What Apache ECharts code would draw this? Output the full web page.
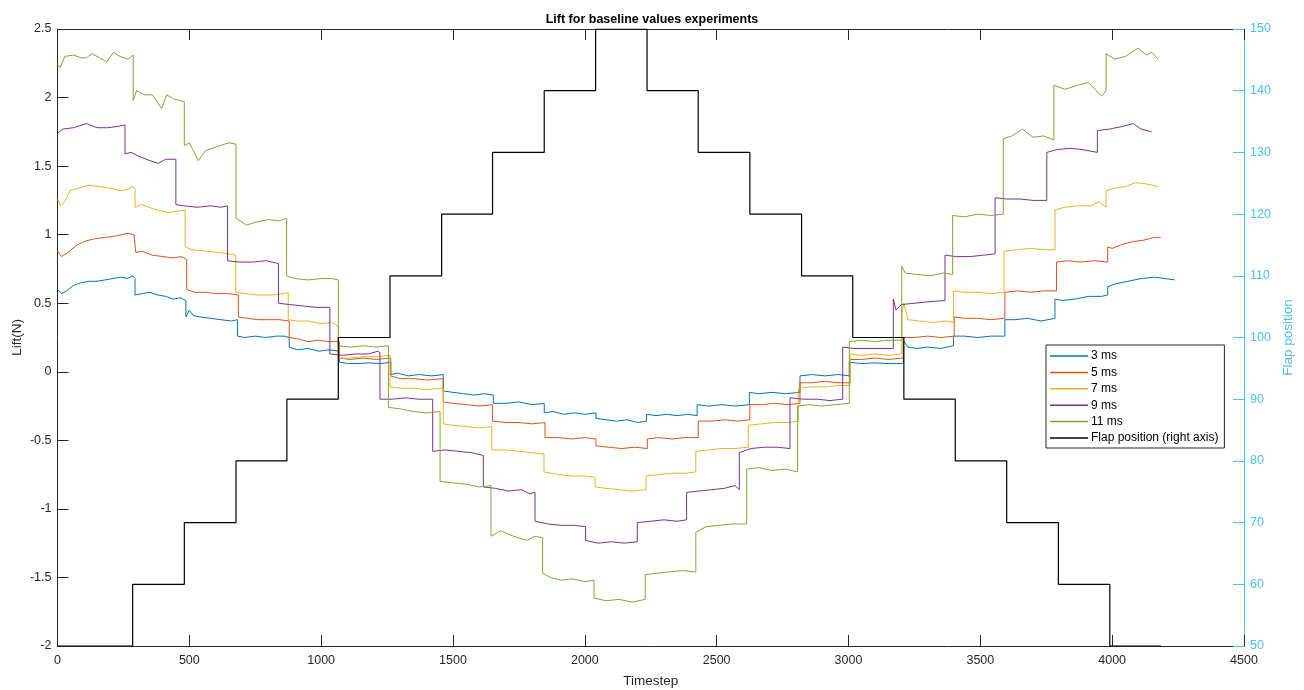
<!DOCTYPE html>
<html>
<head>
<meta charset="utf-8">
<script src="https://cdn.jsdelivr.net/npm/echarts@6/dist/echarts.min.js"></script>
<style>
html,body{margin:0;padding:0;background:#fff;}
#chart{width:1304px;height:690px;}
</style>
</head>
<body>
<div id="chart"></div>
<script>
// ---------------- DATA ----------------
const seriesNames = ['3 ms', '5 ms', '7 ms', '9 ms', '11 ms', 'Flap position (right axis)'];

// Flap position staircase (right axis): value held from flapTimes[i] to flapTimes[i+1]
const flapTimes = [0, 285, 481, 677, 870, 1065, 1261, 1457, 1650, 1846, 2041, 2236, 2430, 2626, 2822, 3016, 3210, 3405, 3600, 3796, 3991, 4185];
const flapValues = [50, 60, 70, 80, 90, 100, 110, 120, 130, 140, 150, 140, 130, 120, 110, 100, 90, 80, 70, 60, 50];

// Lift readings [timestep, lift N]
const lift3 = [[0,0.60],[15,0.57],[35,0.59],[60,0.63],[90,0.65],[120,0.66],[150,0.66],[180,0.67],[210,0.68],[240,0.69],[265,0.68],[285,0.70],[294,0.68],
[294,0.56],[320,0.57],[350,0.58],[380,0.56],[410,0.55],[440,0.53],[465,0.54],[487,0.52],
[487,0.40],[500,0.45],[515,0.41],[540,0.40],[580,0.39],[620,0.38],[660,0.37],[683,0.38],
[683,0.26],[710,0.25],[750,0.26],[790,0.25],[830,0.26],[860,0.26],[879,0.25],
[879,0.18],[910,0.16],[950,0.17],[990,0.15],[1030,0.16],[1069,0.15],
[1069,0.07],[1100,0.06],[1140,0.06],[1180,0.065],[1230,0.06],[1264,0.07],
[1264,-0.02],[1290,-0.01],[1330,-0.03],[1370,-0.02],[1420,-0.03],[1463,-0.02],
[1463,-0.14],[1500,-0.15],[1540,-0.16],[1580,-0.17],[1620,-0.16],[1653,-0.17],
[1653,-0.23],[1700,-0.23],[1750,-0.22],[1800,-0.24],[1846,-0.23],
[1846,-0.30],[1880,-0.29],[1920,-0.31],[1960,-0.30],[2000,-0.31],[2042,-0.30],
[2042,-0.34],[2080,-0.35],[2120,-0.36],[2160,-0.35],[2200,-0.37],[2234,-0.36],
[2234,-0.31],[2270,-0.32],[2310,-0.31],[2350,-0.32],[2390,-0.31],[2426,-0.32],
[2426,-0.24],[2470,-0.25],[2520,-0.24],[2570,-0.25],[2624,-0.24],
[2624,-0.15],[2660,-0.16],[2710,-0.15],[2760,-0.16],[2816,-0.15],
[2816,-0.03],[2860,-0.02],[2910,-0.03],[2960,-0.02],[3003,-0.03],
[3003,0.07],[3050,0.06],[3100,0.065],[3150,0.06],[3208,0.06],
[3208,0.23],[3225,0.18],[3260,0.17],[3300,0.18],[3350,0.17],[3398,0.19],
[3398,0.26],[3440,0.26],[3490,0.25],[3540,0.26],[3593,0.26],
[3593,0.38],[3630,0.38],[3680,0.39],[3730,0.37],[3783,0.39],
[3783,0.53],[3810,0.52],[3860,0.53],[3910,0.55],[3960,0.55],[3983,0.56],
[3983,0.62],[4010,0.64],[4060,0.66],[4110,0.68],[4160,0.69],[4200,0.68],[4238,0.67]];

const lift5 = [[0,0.88],[15,0.84],[40,0.87],[70,0.92],[100,0.95],[140,0.97],[180,0.98],[220,0.99],[268,1.01],[290,1.00],[297,0.99],
[297,0.87],[320,0.88],[360,0.85],[400,0.84],[440,0.83],[470,0.84],[490,0.82],
[490,0.60],[520,0.58],[560,0.58],[600,0.57],[650,0.57],[686,0.56],
[686,0.40],[720,0.39],[760,0.38],[800,0.38],[840,0.38],[879,0.37],
[879,0.25],[910,0.24],[950,0.22],[990,0.23],[1030,0.22],[1069,0.22],
[1069,0.10],[1110,0.09],[1160,0.10],[1210,0.09],[1264,0.10],
[1264,-0.03],[1300,-0.05],[1350,-0.05],[1400,-0.06],[1463,-0.05],
[1463,-0.22],[1500,-0.23],[1550,-0.24],[1600,-0.25],[1650,-0.24],
[1650,-0.36],[1700,-0.37],[1750,-0.37],[1800,-0.38],[1849,-0.37],
[1849,-0.48],[1900,-0.48],[1950,-0.49],[2000,-0.48],[2042,-0.49],
[2042,-0.54],[2090,-0.55],[2140,-0.56],[2190,-0.55],[2237,-0.56],
[2237,-0.49],[2280,-0.48],[2330,-0.49],[2380,-0.48],[2430,-0.48],
[2430,-0.36],[2480,-0.36],[2530,-0.35],[2580,-0.36],[2626,-0.35],
[2626,-0.24],[2670,-0.24],[2720,-0.23],[2770,-0.24],[2816,-0.23],
[2816,-0.08],[2860,-0.08],[2910,-0.07],[2960,-0.08],[3006,-0.08],
[3006,0.09],[3050,0.09],[3100,0.10],[3150,0.09],[3208,0.10],
[3208,0.25],[3250,0.25],[3300,0.26],[3350,0.25],[3401,0.26],
[3401,0.40],[3440,0.39],[3490,0.39],[3540,0.38],[3593,0.39],
[3593,0.58],[3640,0.59],[3690,0.58],[3740,0.59],[3789,0.59],
[3789,0.80],[3830,0.81],[3880,0.80],[3930,0.81],[3983,0.80],
[3983,0.91],[4000,0.90],[4040,0.93],[4080,0.95],[4120,0.96],[4160,0.98],[4184,0.98]];

const lift7 = [[0,1.26],[12,1.21],[30,1.25],[47,1.32],[80,1.34],[120,1.36],[160,1.35],[200,1.34],[237,1.32],[265,1.33],[285,1.35],[294,1.33],
[294,1.20],[320,1.22],[360,1.19],[400,1.17],[420,1.16],[450,1.17],[484,1.18],
[484,0.91],[510,0.89],[560,0.88],[610,0.87],[650,0.86],[676,0.85],
[676,0.58],[710,0.57],[760,0.56],[810,0.56],[860,0.57],[875,0.58],
[875,0.38],[910,0.37],[950,0.37],[1000,0.35],[1040,0.36],[1065,0.33],
[1065,0.10],[1110,0.10],[1160,0.11],[1210,0.11],[1261,0.12],
[1261,-0.11],[1300,-0.12],[1350,-0.12],[1400,-0.13],[1463,-0.12],
[1463,-0.38],[1500,-0.39],[1550,-0.40],[1600,-0.41],[1647,-0.40],
[1647,-0.57],[1700,-0.57],[1750,-0.58],[1800,-0.59],[1845,-0.60],
[1845,-0.73],[1900,-0.75],[1950,-0.76],[2000,-0.76],[2039,-0.77],
[2039,-0.84],[2080,-0.85],[2130,-0.86],[2180,-0.87],[2232,-0.86],
[2232,-0.76],[2280,-0.75],[2330,-0.74],[2380,-0.74],[2421,-0.73],
[2421,-0.58],[2470,-0.57],[2520,-0.56],[2570,-0.56],[2620,-0.55],
[2620,-0.39],[2670,-0.38],[2720,-0.37],[2770,-0.37],[2810,-0.36],
[2810,-0.12],[2860,-0.11],[2910,-0.11],[2960,-0.10],[3006,-0.10],
[3006,0.13],[3050,0.12],[3100,0.13],[3150,0.12],[3202,0.13],
[3202,0.43],[3210,0.50],[3225,0.38],[3270,0.37],[3320,0.36],[3370,0.37],[3398,0.36],
[3398,0.59],[3440,0.58],[3490,0.58],[3540,0.57],[3590,0.58],
[3590,0.88],[3640,0.89],[3690,0.90],[3740,0.89],[3783,0.89],
[3783,1.18],[3820,1.20],[3870,1.21],[3920,1.21],[3950,1.24],[3977,1.20],
[3977,1.32],[4010,1.34],[4050,1.35],[4090,1.38],[4130,1.37],[4174,1.35]];

const lift9 = [[0,1.74],[20,1.77],[60,1.78],[110,1.81],[150,1.78],[190,1.78],[230,1.79],[256,1.80],
[256,1.59],[280,1.60],[310,1.57],[350,1.54],[382,1.52],[410,1.55],[449,1.55],
[449,1.22],[480,1.21],[530,1.20],[580,1.21],[620,1.20],[645,1.21],
[645,0.81],[690,0.80],[740,0.80],[790,0.81],[838,0.79],
[838,0.50],[880,0.49],[930,0.48],[980,0.47],[1033,0.47],
[1033,0.13],[1080,0.12],[1130,0.13],[1180,0.13],[1215,0.15],[1223,0.14],
[1223,-0.20],[1270,-0.20],[1320,-0.19],[1370,-0.20],[1423,-0.20],
[1423,-0.58],[1470,-0.57],[1520,-0.58],[1570,-0.59],[1615,-0.61],
[1615,-0.84],[1660,-0.85],[1710,-0.87],[1760,-0.86],[1790,-0.89],[1811,-0.88],
[1811,-1.09],[1860,-1.11],[1910,-1.12],[1960,-1.12],[2003,-1.13],
[2003,-1.23],[2050,-1.25],[2100,-1.24],[2150,-1.25],[2199,-1.24],
[2199,-1.10],[2250,-1.09],[2300,-1.08],[2350,-1.09],[2386,-1.08],
[2386,-0.88],[2430,-0.87],[2480,-0.86],[2530,-0.85],[2570,-0.83],[2586,-0.86],
[2586,-0.59],[2630,-0.56],[2680,-0.55],[2730,-0.55],[2778,-0.56],
[2778,-0.19],[2830,-0.20],[2880,-0.20],[2930,-0.21],[2978,-0.20],
[2978,0.18],[3020,0.17],[3070,0.17],[3120,0.17],[3170,0.17],
[3170,0.53],[3180,0.45],[3200,0.49],[3250,0.50],[3300,0.51],[3366,0.52],
[3366,0.85],[3410,0.84],[3460,0.84],[3510,0.85],[3556,0.86],
[3556,1.27],[3600,1.26],[3650,1.26],[3700,1.25],[3752,1.25],
[3752,1.60],[3790,1.62],[3840,1.63],[3890,1.62],[3944,1.60],
[3944,1.76],[3990,1.77],[4040,1.79],[4080,1.81],[4110,1.77],[4150,1.75]];

const lift11 = [[0,2.24],[10,2.22],[28,2.30],[60,2.31],[90,2.29],[110,2.29],[130,2.32],[160,2.29],[187,2.26],[212,2.33],[237,2.30],[268,2.28],[287,2.31],
[287,1.98],[300,2.05],[330,2.02],[360,2.02],[395,1.92],[414,2.02],[440,1.99],[481,1.97],
[481,1.65],[500,1.67],[534,1.54],[560,1.61],[600,1.64],[650,1.67],[677,1.66],
[677,1.12],[717,1.07],[750,1.09],[800,1.11],[840,1.10],[869,1.12],
[869,0.70],[900,0.68],[950,0.67],[1000,0.68],[1040,0.68],[1065,0.67],
[1065,0.19],[1110,0.18],[1160,0.19],[1210,0.18],[1255,0.19],
[1255,-0.26],[1300,-0.27],[1350,-0.29],[1400,-0.30],[1451,-0.29],
[1451,-0.80],[1500,-0.81],[1550,-0.82],[1600,-0.84],[1644,-0.83],
[1644,-1.20],[1680,-1.16],[1730,-1.20],[1779,-1.23],[1810,-1.20],[1840,-1.21],
[1840,-1.47],[1870,-1.50],[1910,-1.52],[1950,-1.51],[2000,-1.53],[2035,-1.52],
[2035,-1.65],[2080,-1.67],[2130,-1.66],[2180,-1.68],[2229,-1.66],
[2229,-1.48],[2270,-1.47],[2320,-1.46],[2370,-1.45],[2421,-1.46],
[2421,-1.17],[2460,-1.13],[2510,-1.12],[2560,-1.11],[2614,-1.11],
[2614,-0.71],[2660,-0.70],[2710,-0.72],[2760,-0.71],[2807,-0.73],
[2807,-0.25],[2850,-0.24],[2900,-0.25],[2950,-0.24],[3003,-0.23],
[3003,0.22],[3050,0.23],[3100,0.22],[3150,0.23],[3202,0.23],
[3202,0.77],[3215,0.72],[3260,0.71],[3310,0.70],[3360,0.72],[3395,0.71],
[3395,1.14],[3440,1.13],[3490,1.15],[3540,1.14],[3587,1.15],
[3587,1.70],[3620,1.72],[3660,1.77],[3700,1.71],[3740,1.72],[3779,1.69],
[3779,2.09],[3820,2.06],[3870,2.09],[3910,2.11],[3940,2.05],[3960,2.01],[3977,2.05],
[3977,2.32],[4010,2.28],[4050,2.30],[4098,2.36],[4130,2.31],[4150,2.33],[4174,2.28]];

// ---------------- CHART ----------------
const colors = ['#0072BD', '#D95319', '#EDB120', '#7E2F8E', '#77AC30', '#000000'];
const FONT = '"Liberation Sans", Helvetica, Arial, sans-serif';
const AX = '#262626';
const RIGHT = '#4DBEEE';

const flapData = [];
for (let i = 0; i < flapValues.length; i++) {
  flapData.push([flapTimes[i], flapValues[i]]);
  flapData.push([flapTimes[i + 1], flapValues[i]]);
}

const liftSets = [lift3, lift5, lift7, lift9, lift11];

const chart = echarts.init(document.getElementById('chart'), null, {renderer: 'canvas'});

const series = liftSets.map((d, i) => ({
  name: seriesNames[i],
  type: 'line',
  data: d,
  xAxisIndex: 0,
  yAxisIndex: 0,
  showSymbol: false,
  symbol: 'none',
  lineStyle: {width: 1, color: colors[i]},
  itemStyle: {color: colors[i]},
  animation: false,
  z: 2 + i
}));
series.push({
  name: seriesNames[5],
  type: 'line',
  data: flapData,
  xAxisIndex: 0,
  yAxisIndex: 1,
  showSymbol: false,
  symbol: 'none',
  lineStyle: {width: 1.2, color: '#000'},
  itemStyle: {color: '#000'},
  animation: false,
  z: 10
});

const plain = v => String(v);

chart.setOption({
  animation: false,
  backgroundColor: '#fff',
  title: {
    text: 'Lift for baseline values experiments',
    left: 'center',
    top: 8,
    textStyle: {fontFamily: FONT, fontSize: 12.5, fontWeight: 'bold', color: '#000'}
  },
  grid: {left: 57.5, right: 60, top: 29, bottom: 44, containLabel: false, outerBoundsMode: 'none'},
  legend: {
    data: seriesNames,
    orient: 'vertical',
    left: 1046,
    top: 345,
    icon: 'rect',
    itemWidth: 38,
    itemHeight: 1.5,
    itemGap: 2.4,
    padding: [4, 6, 3, 4],
    backgroundColor: '#fff',
    borderColor: AX,
    borderWidth: 1,
    borderRadius: 0,
    textStyle: {fontFamily: FONT, fontSize: 12, color: '#000', lineHeight: 14, padding: [0, 0, 0, -2]},
    z: 20
  },
  xAxis: [{
    type: 'value', min: 0, max: 4500, interval: 500, position: 'bottom',
    name: 'Timestep', nameLocation: 'middle', nameGap: 28,
    nameTextStyle: {fontFamily: FONT, fontSize: 13.5, color: AX},
    axisLine: {show: true, onZero: false, lineStyle: {color: AX, width: 1}},
    axisTick: {show: true, inside: true, length: 11, lineStyle: {color: AX}},
    axisLabel: {fontFamily: FONT, fontSize: 12.5, color: AX, margin: 8, formatter: plain},
    splitLine: {show: false}
  }, {
    type: 'value', min: 0, max: 4500, interval: 500, position: 'top',
    axisLine: {show: true, onZero: false, lineStyle: {color: AX, width: 1}},
    axisTick: {show: true, inside: true, length: 11, lineStyle: {color: AX}},
    axisLabel: {show: false},
    splitLine: {show: false}
  }],
  yAxis: [{
    type: 'value', min: -2, max: 2.5, interval: 0.5, position: 'left',
    name: 'Lift(N)', nameLocation: 'middle', nameGap: 33, nameRotate: 90, nameMoveOverlap: false,
    nameTextStyle: {fontFamily: FONT, fontSize: 13.5, color: AX},
    axisLine: {show: true, onZero: false, lineStyle: {color: AX, width: 1}},
    axisTick: {show: true, inside: true, length: 11, lineStyle: {color: AX}},
    axisLabel: {fontFamily: FONT, fontSize: 12.5, color: AX, margin: 6, formatter: plain},
    splitLine: {show: false}
  }, {
    type: 'value', min: 50, max: 150, interval: 10, position: 'right',
    name: 'Flap position', nameLocation: 'middle', nameGap: 36, nameRotate: 90,
    nameTextStyle: {fontFamily: FONT, fontSize: 13.5, color: RIGHT},
    axisLine: {show: true, onZero: false, lineStyle: {color: RIGHT, width: 1}},
    axisTick: {show: true, inside: true, length: 11, lineStyle: {color: RIGHT}},
    axisLabel: {fontFamily: FONT, fontSize: 12.5, color: RIGHT, margin: 6, formatter: plain},
    splitLine: {show: false}
  }],
  series: series
});
</script>
</body>
</html>
